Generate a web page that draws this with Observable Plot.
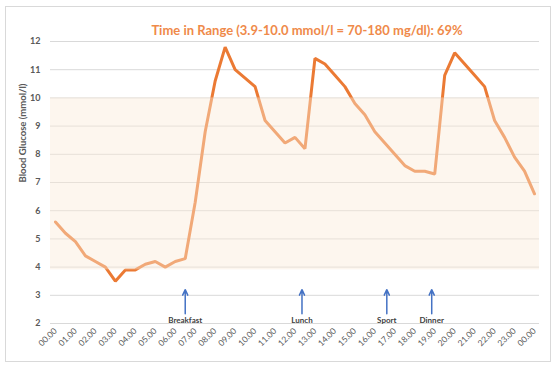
<!DOCTYPE html>
<html>
<head>
<meta charset="utf-8">
<script src="https://cdn.jsdelivr.net/npm/d3@7"></script>
<script src="https://cdn.jsdelivr.net/npm/@observablehq/plot@0.6"></script>
<style>
  html, body { margin: 0; padding: 0; background: #fff; }
  #wrap { position: relative; width: 557px; height: 368px; }
  #border { position: absolute; left: 5px; top: 6px; width: 544px; height: 354px; border: 1px solid #D9D9D9; }
  #chart { position: absolute; left: 0; top: 0; }
</style>
</head>
<body>
<div id="wrap"><div id="border"></div><div id="chart"></div></div>
<script>
const title = "Time in Range (3.9-10.0 mmol/l = 70-180 mg/dl): 69%";
const yLabel = "Blood Glucose (mmol/l)";
// half-hourly readings from 00.00 to 00.00 (49 points)
const hours = d3.range(0, 49).map(i => i * 0.5);
const glucose = [5.6, 5.2, 4.9, 4.4, 4.2, 4.0, 3.5, 3.9, 3.9, 4.1, 4.2, 4.0, 4.2, 4.3,
  6.3, 8.8, 10.6, 11.8, 11.0, 10.7, 10.4, 9.2, 8.8, 8.4, 8.6, 8.2, 11.4, 11.2, 10.8,
  10.4, 9.8, 9.4, 8.8, 8.4, 8.0, 7.6, 7.4, 7.4, 7.3, 10.8, 11.6, 11.2, 10.8, 10.4,
  9.2, 8.6, 7.9, 7.4, 6.6];
const xTicks = d3.range(0, 25);
const xTickLabels = ["00.00","01.00","02.00","03.00","04.00","05.00","06.00","07.00",
  "08.00","09.00","10.00","11.00","12.00","13.00","14.00","15.00","16.00","17.00",
  "18.00","19.00","20.00","21.00","22.00","23.00","00.00"];
const yTicks = [2, 3, 4, 5, 6, 7, 8, 9, 10, 11, 12];
const rangeLow = 3.9, rangeHigh = 10.0;
const meals = ["Breakfast", "Lunch", "Sport", "Dinner"];
const mealTimes = [6.5, 12.35, 16.6, 18.85];

const data = hours.map((h, i) => ({h, g: glucose[i]}));
const mealData = meals.map((m, i) => ({name: m, t: mealTimes[i]}));

const font = "Lato, 'Open Sans', sans-serif";

const plot = Plot.plot({
  width: 557,
  height: 368,
  marginLeft: 50,
  marginRight: 18,
  marginTop: 41,
  marginBottom: 45,
  style: {fontFamily: font, background: "transparent"},
  x: {domain: [-0.25, 24.25], axis: null},
  y: {domain: [2, 12], axis: null},
  marks: [
    Plot.gridY(yTicks, {stroke: "#D9D9D9", strokeOpacity: 1, strokeWidth: 1}),
    Plot.axisY({ticks: yTicks, tickSize: 0, tickPadding: 10, fontSize: 9, fontWeight: "bold", fill: "#595959", label: null}),
    Plot.axisX({ticks: xTicks, tickFormat: d => xTickLabels[d], tickRotate: -45, tickSize: 0, tickPadding: 6, fontSize: 8.5, fill: "#595959", label: null}),
    Plot.line(data, {x: "h", y: "g", stroke: "#EB7A34", strokeWidth: 3, strokeLinejoin: "miter"}),
    Plot.rect([{lo: rangeLow, hi: rangeHigh}], {y1: "lo", y2: "hi", fill: "rgb(250,233,215)", fillOpacity: 0.42}),
    Plot.arrow(mealData, {x: "t", y1: 2.35, y2: 3.2, stroke: "#4472C4", strokeWidth: 1.5, headLength: 6, headAngle: 50}),
    Plot.text(mealData, {x: "t", y: 2.1, text: "name", fontSize: 8, fontWeight: "bold", fill: "#404040"}),
    Plot.text([yLabel], {frameAnchor: "left", dx: -28, rotate: -90, fontSize: 9.5, fontWeight: "bold", fill: "#595959"}),
    Plot.text([title], {frameAnchor: "top", dx: 12, dy: -16, fontSize: 13, fontWeight: "bold", fill: "#EF8A4A"})
  ]
});
document.getElementById("chart").appendChild(plot);
</script>
</body>
</html>
